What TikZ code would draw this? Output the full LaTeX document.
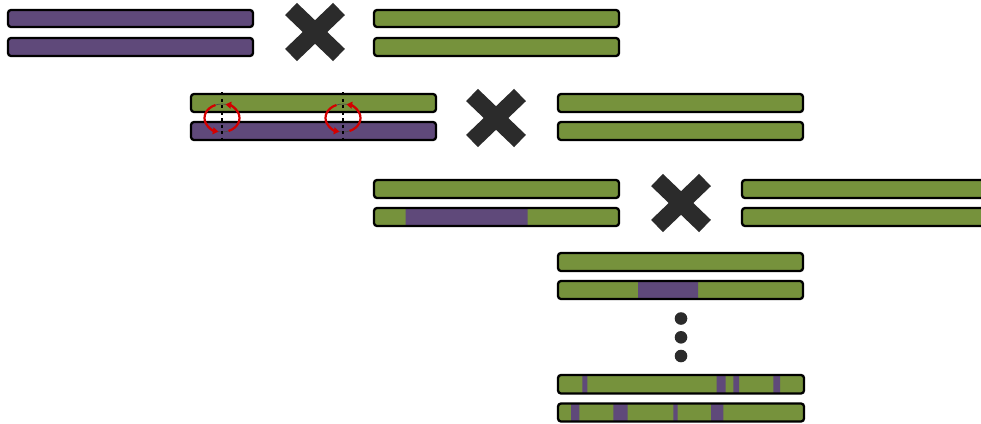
\documentclass[tikz,border=0pt]{standalone}
\usetikzlibrary{arrows.meta}
\definecolor{cgreen}{HTML}{76923C}
\definecolor{cpurple}{HTML}{5F497A}
\definecolor{cmark}{HTML}{2B2B2B}
\definecolor{cred}{HTML}{D40000}
\tikzset{
  outline/.style={draw=black, line width=2.3pt, rounded corners=3pt},
  greenbar/.style={outline, fill=cgreen},
  purplebar/.style={outline, fill=cpurple},
  cross/.style={cmark, line width=17pt, line cap=butt},
  breakline/.style={black, line width=2.8pt, dash pattern=on 3pt off 3.5pt},
  swap/.style={cred, line width=2.2pt, -{Triangle[length=5.5pt,width=7pt]}},
  ring/.style={black!70, line width=0.7pt},
  ellipsisdot/.style={cmark}
}
% a bar with purple segments: #1,#2 = corners, #3 = list of x-ranges
\newcommand{\mixbar}[3]{%
  \begin{scope}
    \clip[rounded corners=3pt] #1 rectangle #2;
    \fill[cgreen] #1 rectangle #2;
    \foreach \a/\b in {#3} {
      \path #1 coordinate (p1) #2 coordinate (p2);
      \fill[cpurple] (\a,0) |- (p1) -| (\b,0) |- (p2) -| cycle;
    }
  \end{scope}
  \draw[outline] #1 rectangle #2;}
\newcommand{\crossmark}[2]{%
  \draw[cross] (#1-24,#2-23) -- (#1+24,#2+23);
  \draw[cross] (#1-24,#2+23) -- (#1+24,#2-23);}
\begin{document}
\begin{tikzpicture}[x=1pt,y=-1pt]
\useasboundingbox (0,0) rectangle (981,423);
\clip (0,0) rectangle (981,423);

% parental generation
\draw[purplebar] (8,10) rectangle (253,27);
\draw[purplebar] (8,38) rectangle (253,56);
\crossmark{315}{32}
\draw[greenbar] (374,10) rectangle (619,27);
\draw[greenbar] (374,38) rectangle (619,56);

% F1 with crossover sites (arc angles are in page orientation)
\draw[greenbar] (191,94) rectangle (436,112);
\draw[purplebar] (191,122) rectangle (436,140);
\foreach \cx in {222,343} {
  \draw[ring] (\cx,118) ellipse[x radius=17.5pt, y radius=14pt];
  \draw[breakline] (\cx,92) -- (\cx,143);
  \draw[swap] (\cx,118) ++(112:17.5pt and 14pt) arc[start angle=112, end angle=258, x radius=17.5pt, y radius=14pt];
  \draw[swap] (\cx,118) ++(-68:17.5pt and 14pt) arc[start angle=-68, end angle=78, x radius=17.5pt, y radius=14pt];
}
\crossmark{496}{118}
\draw[greenbar] (558,94) rectangle (803,112);
\draw[greenbar] (558,122) rectangle (803,140);

% first backcross
\draw[greenbar] (374,180) rectangle (619,198);
\mixbar{(374,208)}{(619,226)}{405.7/527.7}
\crossmark{681}{203}
\draw[greenbar] (742,180) rectangle (1000,198);
\draw[greenbar] (742,208) rectangle (1000,226);

% second backcross
\draw[greenbar] (558,253) rectangle (803,271);
\mixbar{(558,281)}{(803,299)}{638/698}

% further generations
\foreach \y in {318.5,337.3,356} \fill[ellipsisdot] (681,\y) circle[radius=6.3pt];

\mixbar{(558,375)}{(804,393.5)}{582.3/587.3, 716.7/725.7, 733.3/739, 773.3/780}
\mixbar{(558,403.5)}{(804,421.5)}{571/579.3, 613.3/627.7, 673.3/677.7, 711/723.3}
\end{tikzpicture}
\end{document}
